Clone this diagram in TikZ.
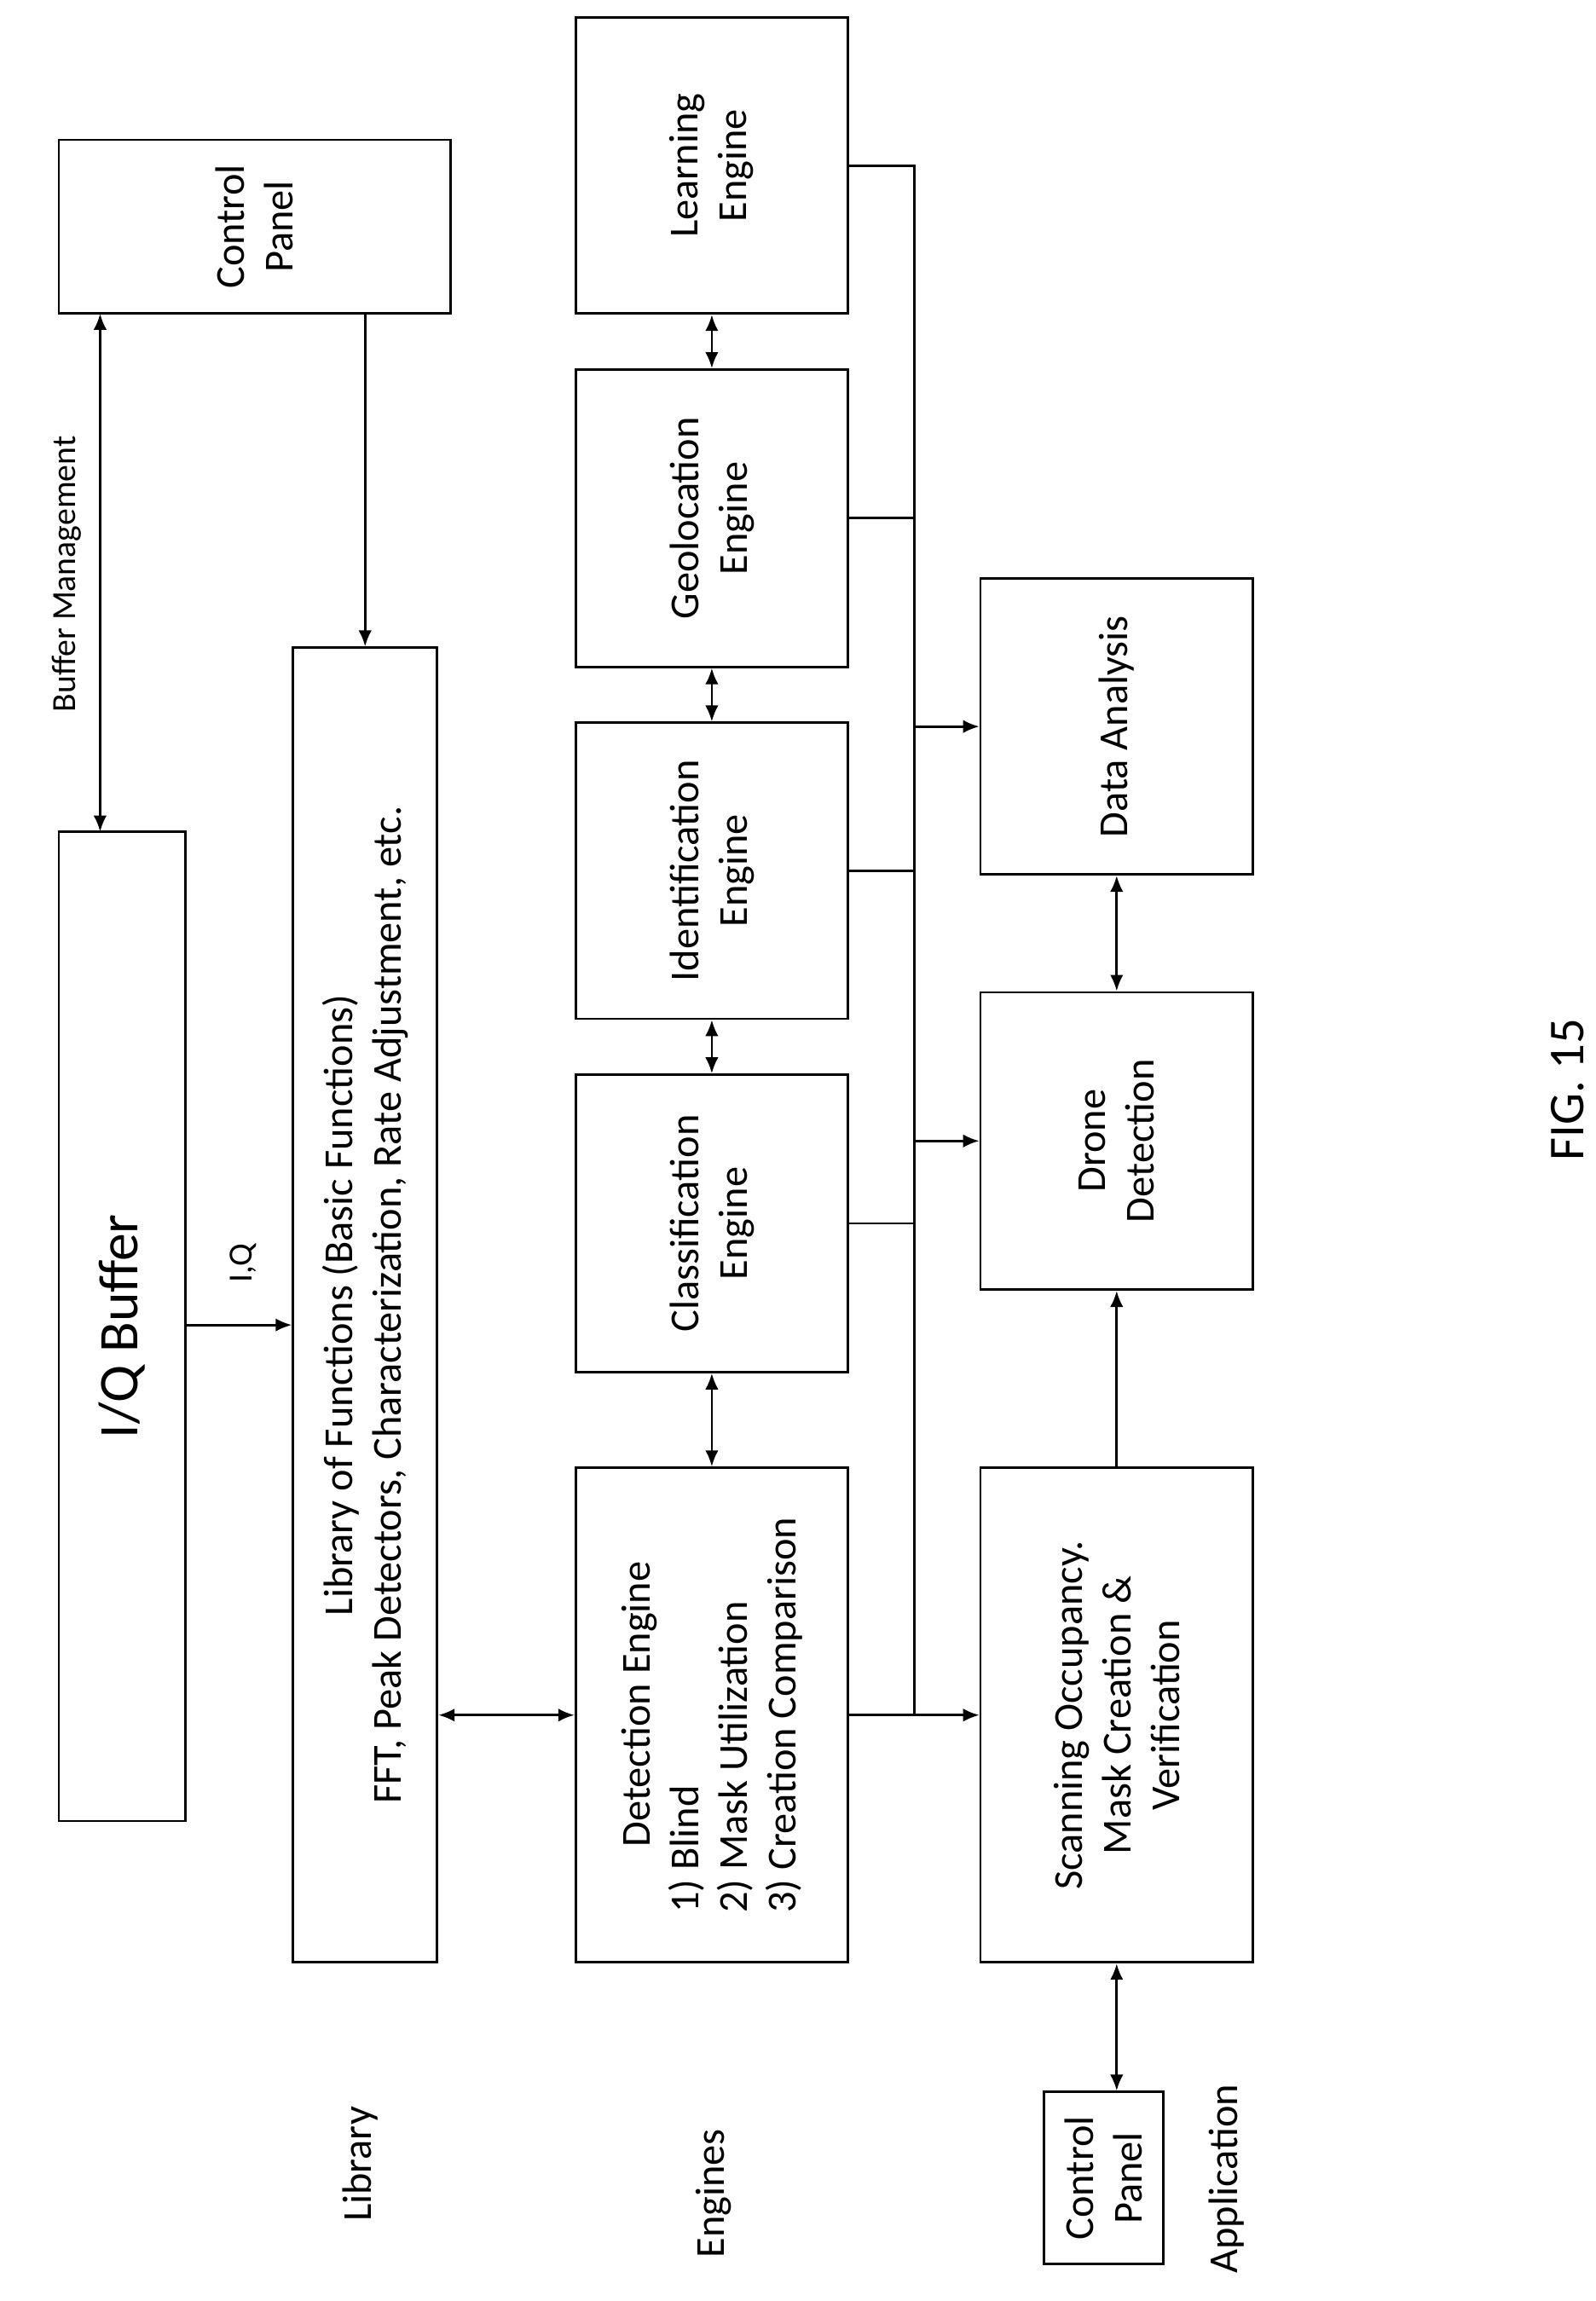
\documentclass[tikz,border=0pt]{standalone}
\usepackage{fontspec}
\setmainfont{Carlito}
\usetikzlibrary{arrows.meta}
\begin{document}
\begin{tikzpicture}[x=1pt,y=-1pt,
 box/.style={draw,line width=1.6pt,inner sep=0pt},
 txt/.style={rotate=90,align=center,font=\fontsize{28}{33}\selectfont},
 lbl/.style={rotate=90,font=\fontsize{23}{27}\selectfont},
 ar/.style={line width=1.6pt,-{Latex[length=11pt,width=9pt]}},
 dar/.style={line width=1.6pt,{Latex[length=11pt,width=9pt]}-{Latex[length=11pt,width=9pt]}},
 ln/.style={line width=1.6pt}]
\useasboundingbox (0,0) rectangle (1084,1563);
\newcommand{\bx}[5]{\node[box,minimum width=#4-#2,minimum height=#5-#3] (#1) at ({(#2+#4)/2},{(#3+#5)/2}) {};}
\bx{iq}{40}{565}{126}{1237}
\bx{cp}{40}{95}{306}{213}
\bx{lib}{199}{440}{297}{1333}
\bx{learn}{391}{12}{576}{213}
\bx{geo}{391}{251}{576}{453}
\bx{ident}{391}{491}{576}{692}
\bx{class}{391}{730}{576}{932}
\bx{det}{391}{997}{576}{1333}
\bx{data}{666}{393}{851}{594}
\bx{drone}{666}{674}{851}{876}
\bx{scan}{666}{997}{851}{1333}
\bx{cp2}{709}{1421}{790}{1538}
\node[rotate=90,font=\fontsize{38}{42}\selectfont] (iqt) at (iq) {I/Q Buffer};
\node[txt] (cpt) at (cp) {Control\\Panel};
\node[txt] (libt) at (lib) {Library of Functions (Basic Functions)\\FFT, Peak Detectors, Characterization, Rate Adjustment, etc.};
\node[txt] (learnt) at (learn) {Learning\\Engine};
\node[txt] (geot) at (geo) {Geolocation\\Engine};
\node[txt] (identt) at (ident) {Identification\\Engine};
\node[txt] (classt) at (class) {Classification\\Engine};
\node[txt,align=left] (dett) at (det) {\makebox[0pt][l]{\hspace{1.6em}Detection Engine}\\1) Blind\\2) Mask Utilization\\3) Creation Comparison};
\node[txt] (datat) at (data) {Data Analysis};
\node[txt] (dronet) at (drone) {Drone\\Detection};
\node[txt] (scant) at (scan) {Scanning Occupancy.\\Mask Creation \&\\Verification};
\node[txt] (cp2t) at (cp2) {Control\\Panel};
\node[lbl] (bm) at (45,390) {Buffer Management};
\node[lbl] (iql) at (165,858) {I,Q};
\node[txt] (libl) at (245,1470) {Library};
\node[txt] (engl) at (485,1490) {Engines};
\node[txt] (appl) at (833,1480) {Application};
\node[rotate=90,font=\fontsize{34}{38}\selectfont] (fig) at (1065,740) {FIG. 15};
% connectors
\draw[dar] (68,213) coordinate (a1) -- (68,565) coordinate (a2);
\draw[ar] (cp.south -| lib.north) -- (lib.north);
\draw[ar] (iq.east |- 0,900) -- (lib.west |- 0,900);
\draw[dar] (lib.east |- det.west) -- (det.west);
\draw[dar] (class.south) -- (det.north);
\draw[dar] (ident.south) -- (class.north);
\draw[dar] (geo.south) -- (ident.north);
\draw[dar] (learn.south) -- (geo.north);
\coordinate (bt) at (621,0 |- learn.east);
\coordinate (bb) at (621,0 |- det.east);
\draw[ln] (learn.east) -- (bt) -- (bb);
\draw[ln] (geo.east) -- (geo.east -| bt);
\draw[ln] (ident.east) -- (ident.east -| bt);
\draw[ln] (class.east) -- (class.east -| bt);
\draw[ar] (det.east) -- (scan.west);
\draw[ar] (data.west -| bt) -- (data.west);
\draw[ar] (drone.west -| bt) -- (drone.west);
\draw[dar] (data.south) -- (drone.north);
\draw[ar] (scan.north) -- (drone.south);
\draw[dar] (scan.south) -- (scan.south |- cp2.north);
\end{tikzpicture}
\end{document}
